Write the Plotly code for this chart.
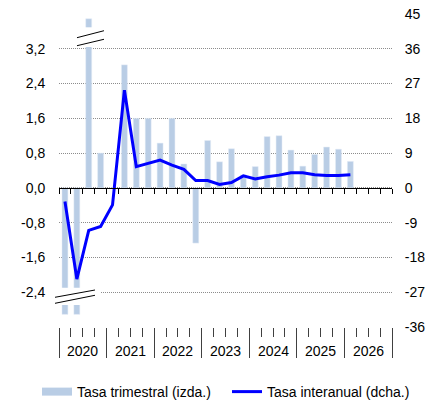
import plotly.graph_objects as go

YEARS = ["2020", "2021", "2022", "2023", "2024", "2025", "2026"]
N_QUARTERS = 28

# Tasa trimestral (izda.) - visual heights on the broken axis
trimestral = [-2.91, -2.91, 3.89, 0.80,
              0.0, 2.83, 1.60, 1.60,
              1.03, 1.60, 0.55, -1.27,
              1.09, 0.60, 0.90, 0.30,
              0.49, 1.18, 1.20, 0.87,
              0.50, 0.77, 0.94, 0.89,
              0.61, None, None, None]

# Tasa interanual (dcha.)
interanual = [-3.5, -23.6, -11.0, -10.0,
              -4.4, 25.3, 5.5, 6.4,
              7.2, 5.9, 4.8, 1.9,
              1.9, 0.9, 1.4, 3.1,
              2.3, 2.9, 3.3, 3.9,
              3.9, 3.4, 3.2, 3.2,
              3.4, None, None, None]

left_ticks = [-2.4, -1.6, -0.8, 0.0, 0.8, 1.6, 2.4, 3.2]
right_ticks = [-36, -27, -18, -9, 0, 9, 18, 27, 36, 45]

LEFT_RANGE = [-3.2, 4.0]
RIGHT_RANGE = [-36, 45]

BAR_COLOR = "#B9CDE5"
LINE_COLOR = "#0000FF"
FONT = "Liberation Sans, Arial, sans-serif"

xs = list(range(N_QUARTERS))
xr = [-0.5, N_QUARTERS - 0.5]
quarter_bounds = [i - 0.5 for i in range(N_QUARTERS + 1)]
year_bounds = [i * 4 - 0.5 for i in range(len(YEARS) + 1)]
year_centers = [i * 4 + 1.5 for i in range(len(YEARS))]

fig = go.Figure()
fig.add_trace(go.Bar(x=xs, y=trimestral, marker_color=BAR_COLOR, width=0.5,
                     showlegend=False, xaxis="x", yaxis="y"))
fig.add_trace(go.Scatter(x=xs, y=interanual, mode="lines",
                         line=dict(color=LINE_COLOR, width=3),
                         showlegend=False, xaxis="x", yaxis="y2"))
# anchor trace so the zero-level category axis (x2) is drawn
fig.add_trace(go.Scatter(x=[None], y=[None], mode="lines", showlegend=False,
                         hoverinfo="skip", xaxis="x2", yaxis="y"))
# legend entries
fig.add_trace(go.Scatter(x=[None], y=[None], mode="lines", name="Tasa trimestral (izda.)",
                         line=dict(color=BAR_COLOR, width=8), yaxis="y", legend="legend"))
fig.add_trace(go.Scatter(x=[None], y=[None], mode="lines", name="Tasa interanual (dcha.)",
                         line=dict(color=LINE_COLOR, width=3), yaxis="y2", legend="legend2"))

shapes = []
# top break (bar 2020 Q3)
shapes.append(dict(type="rect", xref="paper", yref="paper", x0=0.0751, x1=0.1051,
                   y0=0.8946, y1=0.9575, fillcolor="white", line=dict(width=0), layer="above"))
shapes.append(dict(type="line", xref="paper", yref="paper", x0=0.054, y0=0.9243, x1=0.1351, y1=0.9466,
                   line=dict(color="black", width=1), layer="above"))
shapes.append(dict(type="line", xref="paper", yref="paper", x0=0.054, y0=0.8987, x1=0.1351, y1=0.9192,
                   line=dict(color="black", width=1), layer="above"))
# bottom break (bars 2020 Q1-Q2)
shapes.append(dict(type="rect", xref="paper", yref="paper", x0=-0.012, x1=0.1261,
                   y0=0.0703, y1=0.1256, fillcolor="white", line=dict(width=0), layer="above"))
shapes.append(dict(type="line", xref="paper", yref="paper", x0=-0.012, y0=0.0949, x1=0.1081, y1=0.1182,
                   line=dict(color="black", width=1), layer="above"))
shapes.append(dict(type="line", xref="paper", yref="paper", x0=-0.012, y0=0.0757, x1=0.1081, y1=0.1013,
                   line=dict(color="black", width=1), layer="above"))

tick_font = dict(family=FONT, size=14, color="#000000")

# year labels below the category axis
annotations = [dict(x=c, y=-0.0767, xref="x", yref="paper", text=yr, showarrow=False,
                    xanchor="center", yanchor="middle", font=tick_font)
               for c, yr in zip(year_centers, YEARS)]

legend_common = dict(orientation="h", xanchor="left", y=-0.2077, yanchor="middle",
                     font=dict(family=FONT, size=14, color="#000000"),
                     bgcolor="rgba(0,0,0,0)", borderwidth=0)

fig.update_layout(
    width=430, height=402,
    margin=dict(l=59, r=38, t=14, b=75, autoexpand=False),
    paper_bgcolor="white", plot_bgcolor="white",
    font=dict(family=FONT, size=14, color="#000000"),
    shapes=shapes,
    annotations=annotations,
    showlegend=True,
    legend=dict(x=-0.0661, **legend_common),
    legend2=dict(x=0.5045, **legend_common),
    xaxis=dict(range=xr, showgrid=False, zeroline=False, showline=False,
               tickmode="array", tickvals=year_bounds, showticklabels=False,
               ticks="outside", ticklen=30, tickcolor="#404040", tickwidth=1,
               minor=dict(tickmode="array", tickvals=quarter_bounds, ticks="outside",
                          ticklen=9, tickcolor="#404040", tickwidth=1)),
    xaxis2=dict(range=xr, overlaying="x", anchor="free", position=3.2 / 7.2, side="bottom",
                showgrid=False, zeroline=False, showline=True, linecolor="#000000", linewidth=1,
                tickmode="array", tickvals=quarter_bounds, ticks="outside", ticklen=5,
                tickcolor="#000000", showticklabels=False),
    yaxis=dict(range=LEFT_RANGE, showgrid=False, zeroline=False, showline=False,
               tickmode="array", tickvals=left_ticks,
               ticktext=[f"{v:.1f}".replace(".", ",") for v in left_ticks],
               ticks="outside", ticklen=10, tickcolor="rgba(0,0,0,0)", tickfont=tick_font),
    yaxis2=dict(range=RIGHT_RANGE, overlaying="y", side="right", showgrid=True,
                gridcolor="#8c8c8c", griddash="1px,1px", gridwidth=1, zeroline=False,
                showline=False, tickmode="array", tickvals=right_ticks,
                ticktext=[str(v) for v in right_ticks],
                ticks="outside", ticklen=9, tickcolor="rgba(0,0,0,0)", tickfont=tick_font),
)

fig.write_html("out.html", config={"displayModeBar": False},
               post_script="document.body.style.margin='0';document.body.style.overflow='hidden';")
